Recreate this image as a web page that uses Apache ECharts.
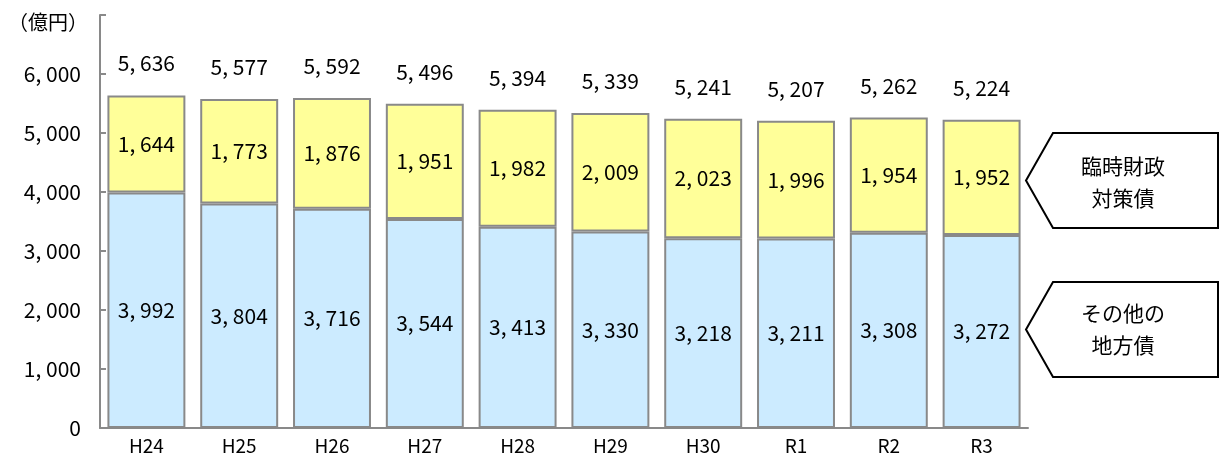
<!DOCTYPE html>
<html><head><meta charset="utf-8">
<script src="https://cdn.jsdelivr.net/npm/echarts@6/dist/echarts.min.js"></script>
<style>html,body{margin:0;padding:0;background:#fff}#c{width:1220px;height:463px}</style>
</head><body><div id="c"></div>
<script>
const categories = ['H24','H25','H26','H27','H28','H29','H30','R1','R2','R3'];
const otherBonds = [3992,3804,3716,3544,3413,3330,3218,3211,3308,3272];
const tempBonds = [1644,1773,1876,1951,1982,2009,2023,1996,1954,1952];
const totals = [5636,5577,5592,5496,5394,5339,5241,5207,5262,5224];
const unitLabel = '（億円）';
const calloutTop = ['臨時財政','対策債'];
const calloutBottom = ['その他の','地方債'];

const NUM_FONT = '"Noto Sans CJK JP",sans-serif';
const JP_FONT = '"Noto Sans CJK JP",sans-serif';
function fmt(v){
  const s = String(v);
  if (s.length <= 3) return s;
  return s.slice(0, s.length-3) + ', ' + s.slice(s.length-3);
}
const chart = echarts.init(document.getElementById('c'));
const labelBase = {show:true, color:'#000', fontFamily:NUM_FONT, fontSize:21};
function arrowShape(yTop, yBot){
  const ym = (yTop+yBot)/2;
  return [[1026,ym],[1053,yTop],[1218,yTop],[1218,yBot],[1053,yBot]];
}
chart.setOption({
  animation:false,
  grid:{left:100, right:192, top:15, bottom:35},
  xAxis:{
    type:'category', data:categories,
    axisLine:{lineStyle:{color:'#898989', width:2}},
    axisTick:{show:false},
    axisLabel:{color:'#000', fontFamily:NUM_FONT, fontSize:19, margin:8}
  },
  yAxis:{
    type:'value', min:0, max:7000, interval:1000,
    axisLine:{show:true, lineStyle:{color:'#898989', width:2}},
    axisTick:{show:true, inside:true, length:6, lineStyle:{color:'#898989', width:2}},
    splitLine:{show:false},
    axisLabel:{color:'#000', fontFamily:NUM_FONT, fontSize:21, margin:19,
      formatter:function(v){ return v===7000 ? '' : fmt(v); }
    }
  },
  series:[
    {type:'bar', stack:'a', data:otherBonds, barWidth:'84%',
     itemStyle:{color:'#CCEBFF', borderColor:'#898989', borderWidth:2},
     label:Object.assign({position:'inside', formatter:p=>fmt(p.value)}, labelBase)},
    {type:'bar', stack:'a', data:tempBonds, barWidth:'84%',
     itemStyle:{color:'#FFFF99', borderColor:'#898989', borderWidth:2},
     label:Object.assign({position:'inside', formatter:p=>fmt(p.value)}, labelBase)},
    {type:'line', data:totals, symbol:'circle', symbolSize:1, showSymbol:true,
     itemStyle:{color:'rgba(0,0,0,0)'}, lineStyle:{opacity:0}, silent:true,
     label:Object.assign({position:'top', distance:21, formatter:p=>fmt(p.value)}, labelBase)}
  ],
  graphic:[
    {type:'text', x:8, y:22, style:{text:unitLabel, font:'20px "Noto Sans CJK JP"', fill:'#000', align:'left', verticalAlign:'middle'}},
    {type:'polygon', shape:{points:arrowShape(133,228)}, style:{fill:'#fff', stroke:'#000', lineWidth:2}},
    {type:'text', x:1123, y:182, style:{text:calloutTop.join('\n'), font:'21px "Noto Sans CJK JP"', fill:'#000', align:'center', verticalAlign:'middle', lineHeight:32}},
    {type:'polygon', shape:{points:arrowShape(282,377)}, style:{fill:'#fff', stroke:'#000', lineWidth:2}},
    {type:'text', x:1123, y:329, style:{text:calloutBottom.join('\n'), font:'21px "Noto Sans CJK JP"', fill:'#000', align:'center', verticalAlign:'middle', lineHeight:32}}
  ]
});
</script></body></html>
